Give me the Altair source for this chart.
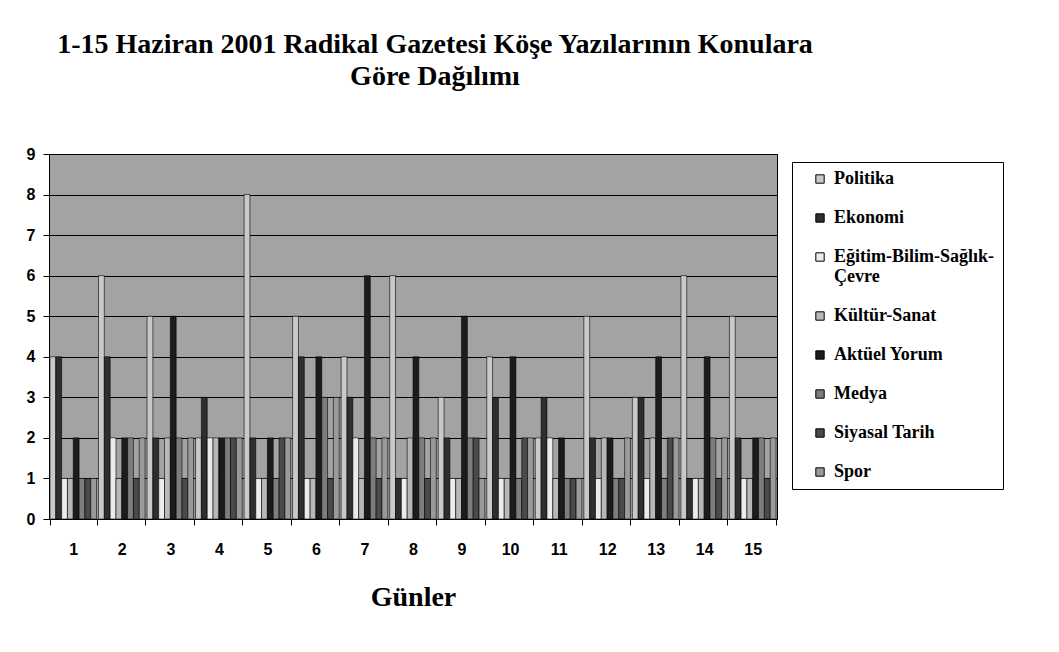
import altair as alt
import pandas as pd

# ---- data ----
days = [str(i) for i in range(1, 16)]
categories = [
    "Politika",
    "Ekonomi",
    "Eğitim-Bilim-Sağlık-Çevre",
    "Kültür-Sanat",
    "Aktüel Yorum",
    "Medya",
    "Siyasal Tarih",
    "Spor",
]
politika = [4, 6, 5, 2, 8, 5, 4, 6, 3, 4, 2, 5, 3, 6, 5]
ekonomi = [4, 4, 2, 3, 2, 4, 3, 1, 2, 3, 3, 2, 3, 1, 2]
egitim = [1, 2, 1, 2, 1, 1, 2, 1, 1, 1, 2, 1, 1, 1, 1]
kultur = [1, 1, 2, 2, 1, 1, 1, 2, 1, 1, 1, 2, 2, 1, 1]
aktuel = [2, 2, 5, 2, 2, 4, 6, 4, 5, 4, 2, 2, 4, 4, 2]
medya = [1, 2, 2, 2, 1, 3, 2, 2, 2, 1, 1, 1, 1, 2, 2]
siyasal = [1, 1, 1, 2, 2, 1, 1, 1, 2, 2, 1, 1, 2, 1, 1]
spor = [1, 2, 2, 2, 2, 3, 2, 2, 1, 2, 1, 2, 2, 2, 2]
series = [politika, ekonomi, egitim, kultur, aktuel, medya, siyasal, spor]

colors = ["#c9c9c9", "#2e2e2e", "#ececec", "#b8b8b8", "#1c1c1c", "#7d7d7d", "#4a4a4a", "#9a9a9a"]

title_lines = [
    "1-15 Haziran 2001 Radikal Gazetesi Köşe Yazılarının Konulara",
    "Göre Dağılımı",
]

rows = []
for cat, vals in zip(categories, series):
    for d, v in zip(days, vals):
        rows.append({"Gün": d, "Konu": cat, "Sayı": v})
df = pd.DataFrame(rows)

serif = "Liberation Serif"
sans = "Liberation Sans"

legend = alt.Legend(
    title=None,
    orient="none",
    legendX=743,
    legendY=8,
    direction="vertical",
    symbolType="square",
    symbolSize=70,
    symbolStrokeColor="black",
    symbolStrokeWidth=1,
    symbolOffset=11,
    labelFont=serif,
    labelFontWeight="bold",
    labelFontSize=18,
    labelColor="black",
    labelLimit=300,
    labelOffset=5,
    rowPadding=21,
    padding=8,
    strokeColor="black",
    fillColor="white",
    labelExpr="datum.label == 'Eğitim-Bilim-Sağlık-Çevre' ? ['Eğitim-Bilim-Sağlık-', 'Çevre'] : datum.label",
)

chart = (
    alt.Chart(df)
    .mark_bar(stroke="black", strokeWidth=0.6)
    .encode(
        x=alt.X(
            "Gün:N",
            sort=days,
            scale=alt.Scale(paddingInner=0.04, paddingOuter=0.02),
            axis=alt.Axis(
                title="Günler",
                titleFont=serif,
                titleFontSize=28,
                titleFontWeight="bold",
                titleColor="black",
                titleBaseline="middle",
                titleY=78,
                labelAngle=0,
                labelFont=sans,
                labelFontSize=16,
                labelFontWeight="bold",
                labelColor="black",
                labelPadding=16,
                tickBand="extent",
                tickSize=6,
                tickColor="black",
                domainColor="black",
                grid=False,
            ),
        ),
        xOffset=alt.XOffset("Konu:N", sort=categories, scale=alt.Scale(paddingInner=0, paddingOuter=0)),
        y=alt.Y(
            "Sayı:Q",
            scale=alt.Scale(domain=[0, 9], nice=False),
            axis=alt.Axis(
                title=None,
                values=list(range(10)),
                labelFont=sans,
                labelFontSize=16,
                labelFontWeight="bold",
                labelColor="black",
                labelPadding=8,
                tickSize=6,
                tickColor="black",
                domainColor="black",
                gridColor="black",
                gridOpacity=1,
                gridWidth=1,
            ),
        ),
        color=alt.Color(
            "Konu:N",
            sort=categories,
            scale=alt.Scale(domain=categories, range=colors),
            legend=legend,
        ),
    )
    .properties(
        width=728,
        height=365,
        background="white",
        autosize=alt.AutoSizeParams(type="none"),
        padding={"left": 41, "top": 146, "right": 274, "bottom": 125},
        title=alt.TitleParams(
            text=title_lines,
            font=serif,
            fontSize=28,
            fontWeight="bold",
            color="black",
            anchor="middle",
            dx=22,
            offset=55,
            lineHeight=32,
        ),
    )
    .configure_view(fill="#a3a3a3", stroke="black", strokeWidth=1)
)

chart.save("out.html", embed_options={"renderer": "svg", "actions": False})
